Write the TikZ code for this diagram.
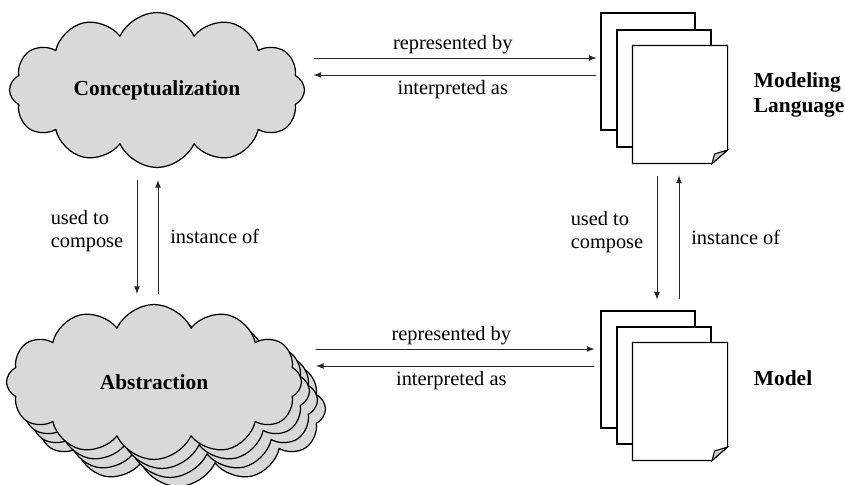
\documentclass[tikz,border=0pt]{standalone}
\usepackage{fontspec}
\setmainfont{Liberation Serif}
\usetikzlibrary{arrows,positioning,shapes.symbols}
\tikzset{
	>=latex, x=0.02cm, y=-0.02cm,
	idea/.style={cloud, cloud puffs=12, cloud puff arc=130, aspect=2, draw, line width=0.7pt,
		fill=black!15, minimum width=5.9cm, minimum height=3.1cm, inner sep=0pt,
		font=\fontsize{12.2}{14}\selectfont\bfseries},
	page/.style={rectangle, draw, line width=0.6pt, fill=white, minimum width=1.88cm,
		minimum height=2.34cm, inner sep=0pt},
	frontpage/.style={page, draw=none, fill=none},
	pageline/.style={line width=0.6pt},
	rel/.style={->, line width=0.5pt, black!85},
	lbl/.style={font=\fontsize{11.6}{13.5}\selectfont, text=black},
	title/.style={font=\fontsize{12.2}{14.6}\selectfont\bfseries, align=left, inner sep=0pt},
}
% front page with a folded corner
\newcommand\dogear[1]{%
	\draw[pageline, fill=white] (#1.north west) -- (#1.north east) -- ([yshift=0.27cm]#1.south east)
		-- ([xshift=-0.31cm]#1.south east) -- (#1.south west) -- cycle;
	\draw[pageline, fill=black!20] ([xshift=-0.31cm]#1.south east) -- ([xshift=-0.26cm, yshift=0.19cm]#1.south east)
		-- ([yshift=0.27cm]#1.south east) -- cycle;
}

\begin{document}
\begin{tikzpicture}
	\useasboundingbox (0,0) rectangle (845,484);

	% clouds
	\node[idea] (concept) at (157,90) {Conceptualization};
	\foreach \i in {3,2,1}
		\node[idea] (abst\i) at (154+\i*8, 382+\i*9) {};
	\node[idea] (abst) at (154,382) {Abstraction};

	% modeling language pages
	\node[page] (ml1) at (648,71.5) {};
	\node[page] (ml2) at (664,88.5) {};
	\node[frontpage] (ml3) at (680,104.5) {};
	\dogear{ml3}
	\node[title, right=0.52cm of ml3, yshift=0.19cm] (mltext) {Modeling\\Language};

	% model pages
	\node[page] (mod1) at (648,369.5) {};
	\node[page] (mod2) at (664,385.5) {};
	\node[frontpage] (mod3) at (680,401.5) {};
	\dogear{mod3}
	\node[title, right=0.52cm of mod3, yshift=0.47cm] (modtext) {Model};

	% horizontal relations
	\draw[rel, shorten <=0.17cm, shorten >=0.08cm]
		([yshift=0.64cm]concept.east) -- node[lbl, above, yshift=-0.04cm]{represented by}
		([yshift=0.64cm]concept.east -| ml1.west);
	\draw[rel, shorten >=0.17cm, shorten <=0.08cm]
		([yshift=0.30cm]concept.east -| ml1.west) -- node[lbl, below, yshift=0.02cm]{interpreted as}
		([yshift=0.30cm]concept.east);
	\draw[rel, shorten <=0.28cm, shorten >=0.12cm]
		([yshift=0.66cm]abst.east) -- node[lbl, above, yshift=-0.04cm]{represented by}
		([yshift=0.66cm]abst.east -| mod1.west);
	\draw[rel, shorten >=0.28cm, shorten <=0.12cm]
		([yshift=0.32cm]abst.east -| mod1.west) -- node[lbl, below, yshift=0.02cm]{interpreted as}
		([yshift=0.32cm]abst.east);

	% vertical relations
	\draw[rel, shorten <=0.24cm, shorten >=0.2cm]
		([xshift=-0.4cm]concept.south) -- node[lbl, left, align=left, xshift=-0.15cm, yshift=0.1cm]{used to\\compose}
		([xshift=-0.4cm]concept.south |- abst.north);
	\draw[rel, shorten <=0.2cm, shorten >=0.24cm]
		([xshift=0.02cm]concept.south |- abst.north) -- node[lbl, right, xshift=0.12cm]{instance of}
		([xshift=0.02cm]concept.south);
	\draw[rel, shorten <=0.24cm, shorten >=0.22cm]
		([xshift=-0.46cm]ml3.south) -- node[lbl, left, align=left, xshift=-0.15cm, yshift=0.1cm]{used to\\compose}
		([xshift=-0.46cm]ml3.south |- mod1.north);
	\draw[rel, shorten <=0.22cm, shorten >=0.24cm]
		([xshift=-0.02cm]ml3.south |- mod1.north) -- node[lbl, right, xshift=0.12cm]{instance of}
		([xshift=-0.02cm]ml3.south);
\end{tikzpicture}
\end{document}
